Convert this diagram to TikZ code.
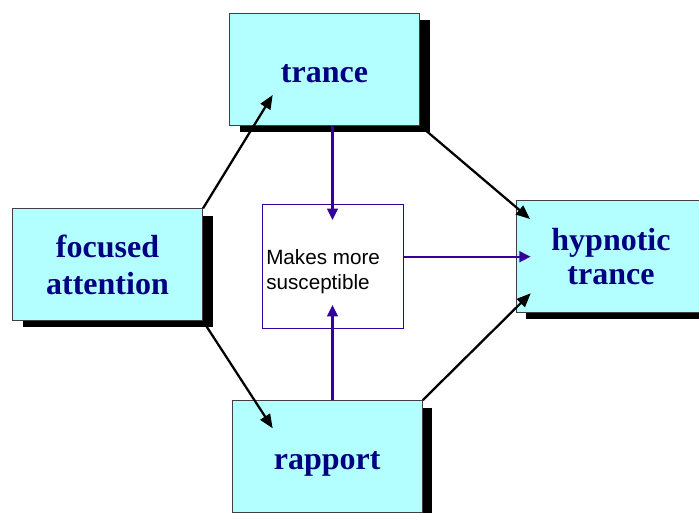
\documentclass[tikz,border=0pt]{standalone}
\usepackage{fontspec}
\setmainfont{Liberation Serif}
\newfontfamily\arialfont{Liberation Sans}
\usetikzlibrary{arrows.meta,shadows,calc}
\definecolor{boxfill}{HTML}{B3FFFF}
\definecolor{navytext}{HTML}{000080}
\definecolor{purp}{HTML}{330099}
\begin{document}
\begin{tikzpicture}[x=0.75pt,y=0.75pt,
  cbox/.style={draw=black!75, line width=0.75pt, fill=boxfill,
    minimum width=142.5pt, minimum height=83.7pt, inner sep=0pt,
    general shadow={fill=black, shadow xshift=7.5pt, shadow yshift=-5.25pt},
    text=navytext, align=center},
  bigfont/.style={font=\fontsize{24}{#1}\selectfont\bfseries},
  oneline/.style={text height=20.2pt, text depth=0pt},
  midbox/.style={draw=purp, line width=1pt, fill=white,
    minimum width=105.75pt, minimum height=93pt, inner sep=0pt},
  midtext/.style={font=\arialfont\fontsize{15.5}{18.3}\selectfont, align=left,
    inner sep=0pt, anchor=west},
  blk/.style={draw=black, line width=1.7pt, -{Triangle[length=10.5pt,width=8.5pt]}},
  pur/.style={draw=purp, line width=1.6pt, -{Triangle[length=8.5pt,width=8pt]}}]
\useasboundingbox (0,0) rectangle (699,513);

\node[cbox, bigfont=27, oneline] (trance) at (324.5,443.75) {trance};
\node[cbox, bigfont=27.5] (fa) at (107.5,248.3) {focused\\attention};
\node[cbox, bigfont=25] (hyp) at (611,256.5) {hypnotic\\trance};
\node[cbox, bigfont=27, oneline] (rapport) at (327.2,56.5) {rapport};
\node[midbox] (mid) at (332.8,246.7) {};
\node[midtext] (mtxt) at (266,241.2) {Makes more\\susceptible};

\coordinate (t1) at (272.7,418);
\coordinate (t2) at (530,294);
\coordinate (t3) at (272.7,84.7);
\coordinate (t4) at (530.7,219.7);
\coordinate (t5) at (332.5,293);
\coordinate (t6) at (332.5,208);
\coordinate (t7) at (530.7,256.3);

\draw[blk] (fa.north east) -- (t1);
\draw[blk] (trance.south east) -- (t2);
\draw[blk] (fa.south east) -- (t3);
\draw[blk] (rapport.north east) -- (t4);
\draw[pur] (t5 |- trance.south) -- (t5);
\draw[pur] (t6 |- rapport.north) -- (t6);
\draw[pur] (mid.east |- t7) -- (t7);
\end{tikzpicture}
\end{document}
